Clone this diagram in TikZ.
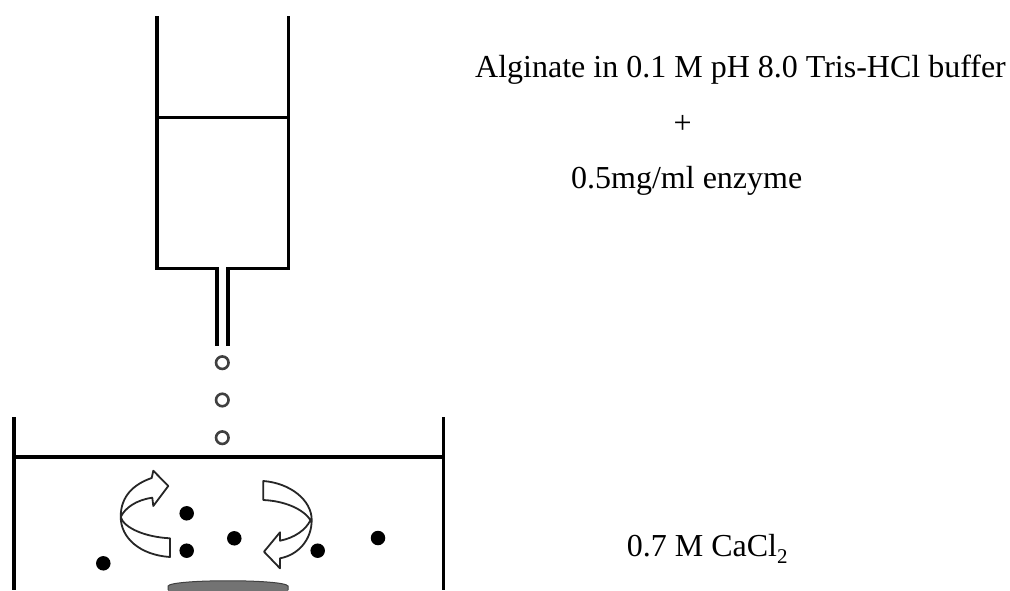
\documentclass[tikz,border=0pt]{standalone}
\usepackage{fontspec}
\setmainfont{Liberation Serif}
\tikzset{
  wall/.style={line width=3.6pt,black},
  bead/.style={circle,draw=black!75,line width=2.6pt,fill=white,minimum size=12.5pt,inner sep=0pt},
  pellet/.style={circle,fill=black,minimum size=14.5pt,inner sep=0pt},
  swirl/.style={draw=black!85,line width=1.8pt,fill=white,line join=round},
  lbl/.style={font=\fontsize{32}{36}\selectfont,inner sep=0pt,anchor=base west,text=black}
}
\begin{document}
\begin{tikzpicture}[x=1pt,y=-1pt]
\useasboundingbox (0,0) rectangle (1010,590);
\fill[white] (0,0) rectangle (1010,590);
% syringe
\coordinate (st1) at (156.7,16); \coordinate (st2) at (288.5,16);
\coordinate (sb1) at (156.7,268.5); \coordinate (sb2) at (288.5,268.5);
\coordinate (pl) at (156.7,117.3); \coordinate (pr) at (288.5,117.3);
\coordinate (n1) at (216.7,268.5); \coordinate (n2) at (227.7,268.5);
\coordinate (n1e) at (216.7,346); \coordinate (n2e) at (227.7,346);
\draw[wall,line join=miter] (st1) -- (sb1) -- (n1) -- (n1e);
\draw[wall,line join=miter] (st2) -- (sb2) -- (n2) -- (n2e);
\draw[wall] (pl) -- (pr);
% beads
\node[bead] (b1) at (222.3,362.7) {};
\node[bead] (b2) at (222.3,400) {};
\node[bead] (b3) at (222.3,437.7) {};
% beaker
\coordinate (bl) at (14,417); \coordinate (blb) at (14,590);
\coordinate (br) at (443.3,417); \coordinate (brb) at (443.3,590);
\coordinate (sl) at (14,457); \coordinate (sr) at (443.3,457);
\draw[wall] (bl) -- (blb);
\draw[wall] (br) -- (brb);
\draw[wall] (sl) -- (sr);
% stir bar
\begin{scope}
\clip (0,0) rectangle (1010,590);
\fill[black!55] (168,595) -- (168,586) .. controls (172,579) and (284,579) .. (288,586) -- (288,595) -- cycle;
\draw[black!75,line width=1pt] (168,590) -- (168,586) .. controls (172,579) and (284,579) .. (288,586) -- (288,590);
\end{scope}
% pellets
\node[pellet] (p1) at (186.7,513.3) {};
\node[pellet] (p2) at (186.7,550.7) {};
\node[pellet] (p3) at (234.3,538.3) {};
\node[pellet] (p4) at (317.7,550.7) {};
\node[pellet] (p5) at (103.3,563.3) {};
\node[pellet] (p6) at (378,538) {};
% left swirl
\draw[swirl] (170,538.3) -- (170,557)
  .. controls (140,555) and (120.7,538) .. (120.7,516.7)
  .. controls (120.7,496) and (134,484) .. (151.7,478)
  -- (153.3,470.7) -- (168.3,486) -- (153.3,506) -- (152.3,497.7)
  .. controls (136,500) and (125,508) .. (120.7,517)
  .. controls (124,528) and (145,537) .. (170,538.3) -- cycle;
% right swirl
\draw[swirl] (263.3,481) -- (263.3,500)
  .. controls (285,501) and (303,509) .. (310.5,520)
  .. controls (306,530) and (294,538) .. (280,540.7)
  -- (280,532.3) -- (264,551.7) -- (280,568.3) -- (280,558.3)
  .. controls (298,555) and (311.7,540) .. (311.7,520)
  .. controls (311.7,500) and (290,483) .. (263.3,481) -- cycle;
% labels
\node[lbl] (t1) at (475,77.7) {Alginate in 0.1 M pH 8.0 Tris-HCl buffer};
\node[lbl] (t2) at (673.5,133) {+};
\node[lbl] (t3) at (571,188) {0.5mg/ml enzyme};
\node[lbl] (t4) at (626.7,556) {0.7 M CaCl\raisebox{-0.22em}{\fontsize{21}{23}\selectfont 2}};
\end{tikzpicture}
\end{document}
